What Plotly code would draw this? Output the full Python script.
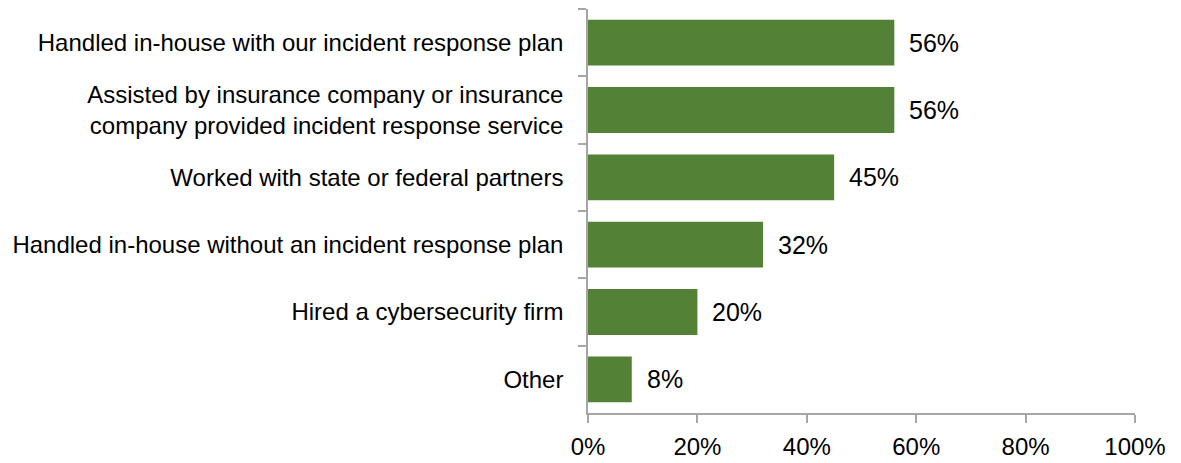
import plotly.graph_objects as go

categories = [
    "Handled in-house with our incident response plan",
    "Assisted by insurance company or insurance<br>company provided incident response service",
    "Worked with state or federal partners",
    "Handled in-house without an incident response plan",
    "Hired a cybersecurity firm",
    "Other",
]
values = [56, 56, 45, 32, 20, 8]
tick_values = [0, 20, 40, 60, 80, 100]
tick_labels = ["0%", "20%", "40%", "60%", "80%", "100%"]

FONT = "Liberation Sans Narrow, Arial Narrow, Liberation Sans, Arial, sans-serif"
GREEN = "#538135"
AXIS = "#a6a6a6"
SIZE = 24

fig = go.Figure(
    go.Bar(
        x=values,
        y=categories,
        orientation="h",
        marker=dict(color=GREEN, line=dict(width=0)),
        hoverinfo="skip",
    )
)

for cat, val in zip(categories, values):
    fig.add_annotation(
        x=val, y=cat, text=f"{val}%", showarrow=False,
        xanchor="left", yanchor="middle", xshift=13,
        font=dict(family=FONT, size=SIZE + 1, color="#000000"),
    )

fig.update_layout(
    width=1181, height=463,
    margin=dict(l=588, r=46, t=9, b=50),
    paper_bgcolor="white", plot_bgcolor="white",
    bargap=0.32,
    showlegend=False,
    font=dict(family=FONT, size=SIZE, color="#000000"),
)
fig.update_xaxes(
    range=[0, 100], tickvals=tick_values, ticktext=tick_labels,
    showgrid=False, zeroline=False, automargin=False,
    showline=True, linecolor=AXIS, linewidth=1.5,
    ticks="outside", ticklen=8, tickcolor=AXIS, tickwidth=1.5,
    ticklabelstandoff=3,
    tickfont=dict(family=FONT, size=SIZE, color="#000000"),
)
fig.update_yaxes(
    autorange="reversed",
    showgrid=False, zeroline=False, automargin=False,
    showline=True, linecolor=AXIS, linewidth=1.5,
    ticks="outside", ticklen=8, tickcolor=AXIS, tickwidth=1.5,
    tickson="boundaries",
    ticklabelstandoff=18,
    tickfont=dict(family=FONT, size=SIZE, color="#000000"),
)

fig.write_html("out.html")
